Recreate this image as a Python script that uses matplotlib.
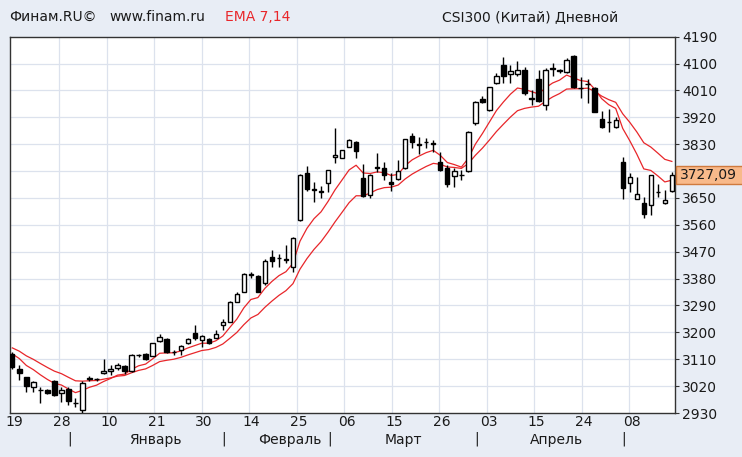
import matplotlib
matplotlib.use("Agg")
import matplotlib.pyplot as plt
import matplotlib.transforms as mtransforms
from matplotlib.patches import Rectangle
import numpy as np

# CSI300 daily candles, 19 Dec 2018 - 15 May 2019
opens = [3127, 3076, 3049, 3016, 3008, 3007, 3038, 2996, 3011, 2963,
         2940, 3045, 3043, 3063, 3070, 3080, 3087, 3070, 3123, 3128,
         3122, 3171, 3178, 3134, 3141, 3163, 3197, 3174, 3177, 3182,
         3225, 3236, 3303, 3336, 3392, 3388, 3364, 3453, 3450, 3445,
         3420, 3576, 3732, 3677, 3671, 3699, 3786, 3785, 3822, 3838,
         3718, 3660, 3751, 3751, 3704, 3713, 3751, 3858, 3830, 3838,
         3833, 3771, 3752, 3724, 3727, 3741, 3900, 3983, 3944, 4036,
         4095, 4065, 4064, 4080, 3985, 4050, 3961, 4086, 4078, 4073,
         4125, 4018, 4032, 4017, 3916, 3905, 3886, 3771, 3701, 3648,
         3632, 3627, 3671, 3632, 3674]
highs = [3135, 3091, 3051, 3036, 3016, 3012, 3040, 3016, 3016, 2979,
         3038, 3054, 3048, 3110, 3091, 3096, 3092, 3126, 3128, 3130,
         3165, 3193, 3180, 3140, 3157, 3180, 3225, 3190, 3182, 3208,
         3244, 3305, 3336, 3398, 3403, 3392, 3445, 3476, 3464, 3492,
         3520, 3730, 3757, 3704, 3691, 3745, 3883, 3812, 3846, 3840,
         3765, 3729, 3799, 3771, 3733, 3776, 3848, 3866, 3855, 3852,
         3844, 3803, 3760, 3749, 3744, 3875, 3975, 3990, 4022, 4070,
         4121, 4094, 4110, 4090, 4011, 4080, 4085, 4101, 4082, 4120,
         4128, 4056, 4047, 4020, 3940, 3947, 3920, 3786, 3735, 3721,
         3654, 3727, 3697, 3677, 3738]
lows = [3079, 3040, 3001, 3001, 2962, 2993, 2988, 2968, 2957, 2951,
        2931, 3038, 3038, 3060, 3057, 3074, 3062, 3068, 3118, 3108,
        3120, 3168, 3130, 3125, 3124, 3160, 3175, 3152, 3160, 3180,
        3208, 3234, 3300, 3334, 3381, 3334, 3360, 3420, 3420, 3432,
        3403, 3574, 3675, 3637, 3649, 3671, 3766, 3783, 3820, 3783,
        3654, 3650, 3738, 3710, 3673, 3710, 3748, 3816, 3797, 3816,
        3803, 3740, 3688, 3688, 3710, 3738, 3895, 3968, 3940, 4030,
        4034, 4036, 4060, 3995, 3961, 3970, 3944, 4058, 4068, 4070,
        4017, 3984, 3967, 3939, 3884, 3872, 3884, 3645, 3671, 3645,
        3582, 3593, 3654, 3630, 3670]
closes = [3083, 3065, 3020, 3033, 3006, 2996, 2990, 3007, 2970, 2962,
          3029, 3047, 3044, 3072, 3076, 3091, 3070, 3124, 3124, 3111,
          3164, 3186, 3135, 3133, 3155, 3178, 3180, 3188, 3163, 3196,
          3236, 3303, 3328, 3395, 3394, 3336, 3440, 3440, 3448, 3443,
          3515, 3727, 3679, 3677, 3672, 3743, 3794, 3810, 3844, 3807,
          3656, 3727, 3753, 3727, 3697, 3740, 3847, 3836, 3829, 3836,
          3832, 3742, 3697, 3741, 3728, 3872, 3972, 3972, 4020, 4058,
          4058, 4076, 4080, 4000, 3983, 3976, 4080, 4083, 4074, 4112,
          4023, 4017, 4030, 3939, 3886, 3903, 3911, 3682, 3719, 3663,
          3598, 3727, 3669, 3643, 3727.09]

# EMA values carried over from before the first visible day
ema_start = {7: 3143, 14: 3158}

day_labels = ["19", "28", "10", "21", "30", "14", "25", "06", "15", "26",
              "03", "15", "24", "08"]
month_names = ["Январь", "Февраль", "Март", "Апрель"]
month_starts = [8, 30, 45, 66, 87]
price_ticks = list(range(2930, 4191, 90))
last_price = "3727,09"


def ema(values, n, start):
    a = 2.0 / (n + 1)
    out = []
    prev = start
    for v in values:
        prev = prev + a * (v - prev)
        out.append(prev)
    return out


plt.rcParams['font.family'] = ['DejaVu Sans']
BG = '#e8edf5'
TXT = '#1a1a1a'
RED = '#e8262a'
FS = 10

W, H = 742, 457
fig = plt.figure(figsize=(W / 100, H / 100), dpi=100, facecolor=BG)
ax = fig.add_axes([10 / W, 44 / H, 665 / W, 376.3 / H])
ax.set_facecolor('white')

n = len(closes)
idx = np.arange(n)
o = np.array(opens, float)
c = np.array(closes, float)

# grid
step = 47.5 / 7.016
grid_x = -0.11 + step * np.arange(1, 14)
for gx in grid_x:
    ax.axvline(gx, color='#dce2ed', lw=0.9, zorder=0)
for p in price_ticks[1:-1]:
    ax.axhline(p, color='#dce2ed', lw=0.9, zorder=0)

# ema lines
ax.plot(idx, ema(closes, 14, ema_start[14]), color=RED, lw=0.9, zorder=2)
ax.plot(idx, ema(closes, 7, ema_start[7]), color=RED, lw=0.9, zorder=2)

# candles
ax.vlines(idx, lows, highs, color='black', lw=1.0, zorder=3)
up = c >= o
bottoms = np.minimum(o, c)
heights = np.maximum(np.abs(c - o), 1.5)
ax.bar(idx[up], heights[up], bottom=bottoms[up], width=0.62,
       facecolor='white', edgecolor='black', lw=1.0, zorder=4)
ax.bar(idx[~up], heights[~up], bottom=bottoms[~up], width=0.62,
       facecolor='black', edgecolor='black', lw=1.0, zorder=4)

ax.set_xlim(-0.33, 94.45)
ax.set_ylim(2930, 4190)

for s in ax.spines.values():
    s.set_color('#333333')
    s.set_linewidth(1.0)

# price labels; the one under the last-price box is hidden by it
ax.yaxis.tick_right()
ax.set_yticks(price_ticks)
ax.set_yticklabels(['' if abs(p - closes[-1]) < 45 else str(p)
                    for p in price_ticks])
ax.tick_params(axis='y', length=3, width=0.8, color='#333333', pad=2,
               labelsize=FS, labelcolor=TXT)

ax.set_xticks(grid_x[0] - step + 0.36 + step * np.arange(14))
ax.set_xticklabels(day_labels)
ax.tick_params(axis='x', length=0, pad=1.5, labelsize=FS, labelcolor=TXT)

# month labels and separators under the day labels
trans = mtransforms.blended_transform_factory(ax.transData, ax.transAxes)
for m in month_starts:
    ax.text(m + 0.15, -0.068, "|", transform=trans, ha='center', va='center',
            fontsize=FS, color=TXT)
month_pos = [20.35, 39.6, 55.7, 77.6]
for name, mx in zip(month_names, month_pos):
    ax.text(mx, -0.072, name, transform=trans, ha='center', va='center',
            fontsize=FS, color=TXT)

# last price box on the right axis
y_pix = ax.transData.transform((0, closes[-1]))[1]
box_h = 18
fig.patches.append(Rectangle((676, y_pix - box_h / 2), W - 676 + 2, box_h,
                             transform=None, facecolor='#f8b98a',
                             edgecolor='#cf7a3e', lw=1.0, zorder=5))
fig.text(680 / W, y_pix / H, last_price, fontsize=FS, color=TXT,
         ha='left', va='center', zorder=6)

# header
hy = 0.963
fig.text(9.5 / W, hy, "Финам.RU©", fontsize=FS, color=TXT, va='center')
fig.text(109 / W, hy, "www.finam.ru", fontsize=FS, color=TXT, va='center')
fig.text(225 / W, hy, "EMA 7,14", fontsize=FS, color=RED, va='center')
fig.text(442 / W, hy, "CSI300 (Китай) Дневной", fontsize=FS, color=TXT,
         va='center')

fig.savefig("out.png", dpi=100, facecolor=BG)
